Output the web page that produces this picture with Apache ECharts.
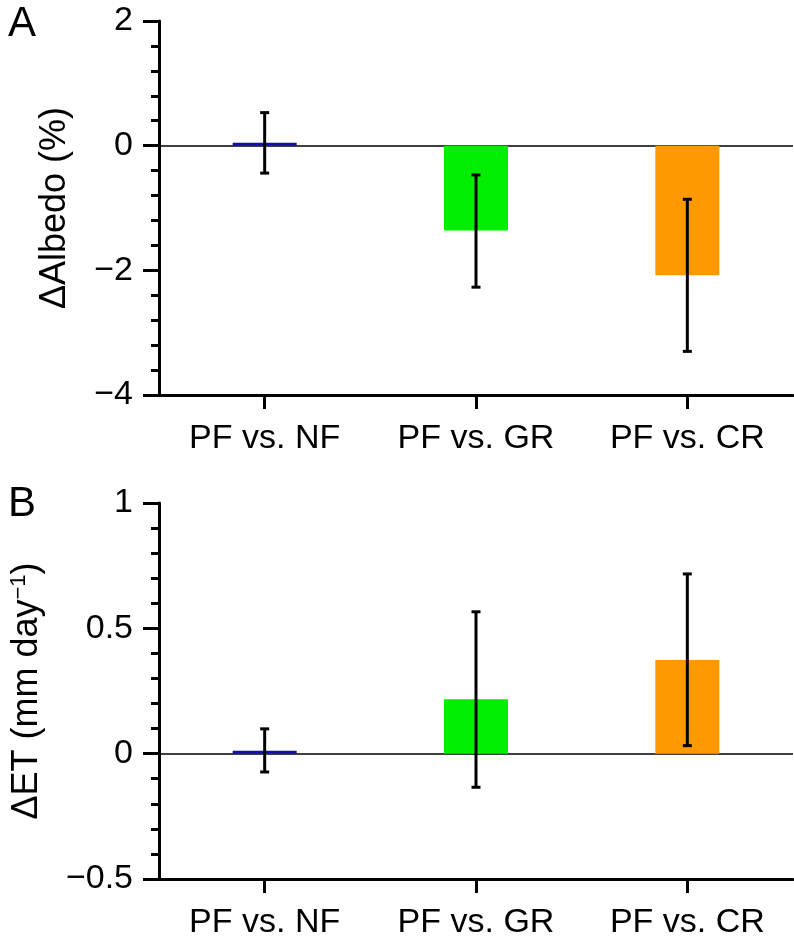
<!DOCTYPE html>
<html>
<head>
<meta charset="utf-8">
<script src="https://cdn.jsdelivr.net/npm/echarts@6/dist/echarts.min.js"></script>
<style>
html,body{margin:0;padding:0;background:#fff;}
#chart{width:794px;height:948px;}
</style>
</head>
<body>
<div id="chart"></div>
<script>
var categories = ['PF vs. NF', 'PF vs. GR', 'PF vs. CR'];
var albedoMean = [0.045, -1.36, -2.08];
var albedoLow = [-0.44, -2.27, -3.30];
var albedoHigh = [0.53, -0.47, -0.86];
var etMean = [0.012, 0.217, 0.374];
var etLow = [-0.073, -0.134, 0.032];
var etHigh = [0.099, 0.566, 0.717];
var albedoTicks = {min: -4, max: 2, interval: 2};
var etTicks = {min: -0.5, max: 1, interval: 0.5};
var barColors = ['#1010a8', '#00ee00', '#ff9900'];

var FONT = '"Liberation Sans", Arial, Helvetica, sans-serif';

function barData(vals) {
  return vals.map(function (v, i) {
    return {value: v, itemStyle: {color: barColors[i]}};
  });
}
function errData(low, high) {
  return low.map(function (l, i) { return [i, l, high[i]]; });
}
function renderErr(params, api) {
  var x = api.value(0);
  var lo = api.coord([x, api.value(1)]);
  var hi = api.coord([x, api.value(2)]);
  var cap = 4.5;
  var style = {stroke: '#000', lineWidth: 3, fill: null};
  return {
    type: 'group',
    children: [
      {type: 'line', shape: {x1: lo[0], y1: lo[1], x2: hi[0], y2: hi[1]}, style: style},
      {type: 'line', shape: {x1: hi[0] - cap, y1: hi[1], x2: hi[0] + cap, y2: hi[1]}, style: style},
      {type: 'line', shape: {x1: lo[0] - cap, y1: lo[1], x2: lo[0] + cap, y2: lo[1]}, style: style}
    ]
  };
}

function xAxis(gi) {
  return {
    type: 'category', gridIndex: gi, data: categories,
    axisLine: {show: true, onZero: false, lineStyle: {color: '#000', width: 3}},
    axisTick: {show: true, alignWithLabel: true, length: 14, lineStyle: {color: '#000', width: 3}},
    axisLabel: {color: '#000', fontSize: 34, fontFamily: FONT, margin: 27},
    splitLine: {show: false}
  };
}
function yAxis(gi, t, name, gap) {
  return {
    type: 'value', gridIndex: gi, min: t.min, max: t.max, interval: t.interval,
    name: name, nameLocation: 'middle', nameGap: gap, nameRotate: 90,
    nameMoveOverlap: false,
    nameTextStyle: {color: '#000', fontSize: 36, fontFamily: FONT,
      rich: {a: {fontSize: 36, fontFamily: FONT, color: '#000'},
             s: {fontSize: 22, fontFamily: FONT, color: '#000', verticalAlign: 'top', padding: [0, 0, 16, 0]}}},
    axisLine: {show: true, lineStyle: {color: '#000', width: 3}},
    axisTick: {show: true, length: 16, lineStyle: {color: '#000', width: 3}},
    minorTick: {show: true, splitNumber: 5, length: 8, lineStyle: {color: '#000', width: 3}},
    axisLabel: {color: '#000', fontSize: 34, fontFamily: FONT, margin: 26,
      formatter: function (v) { return String(v).replace('-', '\u2212'); }},
    splitLine: {show: false}, minorSplitLine: {show: false}
  };
}

function barSeries(gi, vals) {
  return {
    type: 'bar', xAxisIndex: gi, yAxisIndex: gi, data: barData(vals), barWidth: 64,
    z: 2,
    markLine: {
      silent: true, symbol: 'none', label: {show: false}, z: 1,
      lineStyle: {color: '#000', width: 1.5, type: 'solid'},
      data: [{yAxis: 0}]
    }
  };
}
function errSeries(gi, low, high) {
  return {
    type: 'custom', xAxisIndex: gi, yAxisIndex: gi, renderItem: renderErr,
    data: errData(low, high), z: 5
  };
}

var chart = echarts.init(document.getElementById('chart'), null, {renderer: 'canvas'});
chart.setOption({
  backgroundColor: '#fff',
  animation: false,
  title: [
    {text: 'A', left: 3, top: -2, textStyle: {fontSize: 42, fontWeight: 'normal', fontFamily: FONT, color: '#000'}},
    {text: 'B', left: 3, top: 478, textStyle: {fontSize: 42, fontWeight: 'normal', fontFamily: FONT, color: '#000'}}
  ],
  grid: [
    {left: 159, top: 21, width: 634, height: 374},
    {left: 159, top: 503, width: 634, height: 376}
  ],
  xAxis: [xAxis(0), xAxis(1)],
  yAxis: [
    yAxis(0, albedoTicks, '{a|\u0394Albedo (%)}', 86),
    yAxis(1, etTicks, '{a|\u0394ET (mm day}{s|\u22121}{a|)}', 113)
  ],
  series: [
    barSeries(0, albedoMean), errSeries(0, albedoLow, albedoHigh),
    barSeries(1, etMean), errSeries(1, etLow, etHigh)
  ]
});
</script>
</body>
</html>
